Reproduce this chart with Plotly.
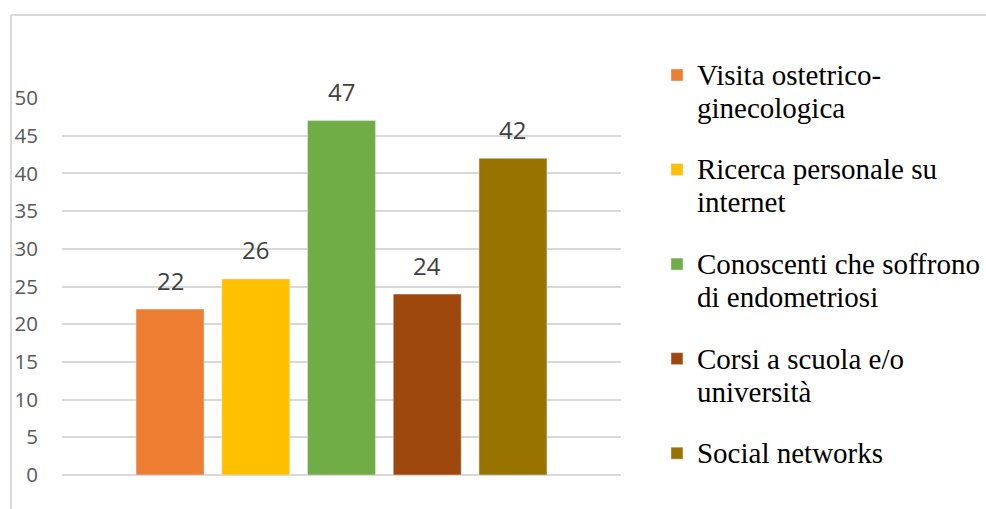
import plotly.graph_objects as go

series = ["Visita ostetrico-<br>ginecologica",
          "Ricerca personale su<br>internet",
          "Conoscenti che soffrono<br>di endometriosi",
          "Corsi a scuola e/o<br>università",
          "Social networks"]
values = [22, 26, 47, 24, 42]
colors = ["#ED7D31", "#FFC000", "#70AD47", "#9E480E", "#997300"]
y_ticks = [0, 5, 10, 15, 20, 25, 30, 35, 40, 45, 50]

cats = [f"c{i}" for i in range(len(series))]

fig = go.Figure()
for i, (name, v, c) in enumerate(zip(series, values, colors)):
    fig.add_trace(go.Bar(
        x=[cats[i]], y=[v],
        name=f'<span style="font-size:29px">{name}</span>',
        marker_color=c, legendgroup=f"g{i}",
        hoverinfo="skip"))
    fig.add_annotation(x=cats[i], y=v, text=str(v), showarrow=False,
                       yanchor="middle", yshift=29,
                       font=dict(family="Open Sans", size=24, color="#404040"))

border = dict(color="#d9d9d9", width=2)
fig.add_shape(type="line", xref="paper", yref="paper",
              x0=-0.0912, y0=1.2202, x1=1.7, y1=1.2202, line=border)
fig.add_shape(type="line", xref="paper", yref="paper",
              x0=-0.0912, y0=1.2202, x1=-0.0912, y1=-0.12, line=border)

fig.update_layout(
    width=986, height=509,
    margin=dict(l=62, r=365, t=98, b=34),
    paper_bgcolor="white", plot_bgcolor="white",
    barmode="overlay", bargap=0.207,
    showlegend=True,
    legend=dict(xref="container", x=0.6663, y=1.122, xanchor="left", yanchor="top",
                valign="top", tracegroupgap=25.5, traceorder="grouped",
                maxheight=480,
                font=dict(family="Liberation Serif", size=25.4, color="#000000"),
                bgcolor="rgba(0,0,0,0)"),
    xaxis=dict(categoryorder="array", categoryarray=cats,
               range=[-1.26, 5.26], showticklabels=False,
               showgrid=False, zeroline=False, showline=False),
    yaxis=dict(range=[0, 50], tickvals=y_ticks, showgrid=True,
               gridcolor="#d9d9d9", gridwidth=1.5,
               zeroline=True, zerolinecolor="#d9d9d9", zerolinewidth=1.5,
               showline=False, ticklabelstandoff=23,
               tickfont=dict(family="Open Sans", size=20.5, color="#595959")),
)

fig.write_html("out.html")
